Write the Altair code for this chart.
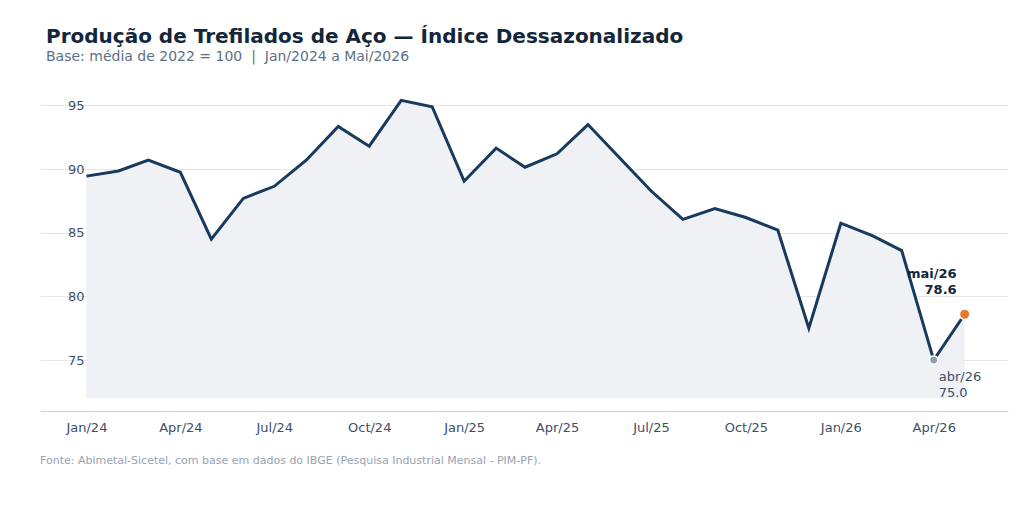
import altair as alt
import pandas as pd

months = pd.date_range("2024-01-01", "2026-05-01", freq="MS").strftime("%Y-%m-%d").tolist()
index_values = [89.45, 89.85, 90.7, 89.75, 84.5, 87.7, 88.65, 90.7, 93.35, 91.8, 95.4, 94.9,
                89.05, 91.65, 90.15, 91.2, 93.5, 90.85, 88.3, 86.05, 86.9, 86.2, 85.2, 77.5,
                85.75, 84.75, 83.6, 75.0, 78.6]
area_base = 72.0

df = pd.DataFrame({"mes": months, "indice": index_values, "base": area_base})

W, H = 968, 331
x_scale = alt.Scale(domain=["2023-11-17", "2026-06-12"])
y_scale = alt.Scale(domain=[71, 97], nice=False, zero=False)

x_enc = alt.X("mes:T", scale=x_scale, title=None,
              axis=alt.Axis(format="%b/%y", values=[m for m in months[::3]],
                            ticks=False, grid=False, domainColor="#c8d4e0",
                            labelColor="#3d5068", labelFontSize=13, labelPadding=10))
y_enc = alt.Y("indice:Q", scale=y_scale, title=None,
              axis=alt.Axis(values=[75, 80, 85, 90, 95], domain=False, ticks=False,
                            gridColor="#e3e7ec", labelColor="#3d5068", labelFontSize=13,
                            labelPadding=-44))

base = alt.Chart(df)
area = base.mark_area(color="#eef0f3", opacity=0.9).encode(x=x_enc, y=y_enc, y2="base:Q")
line = base.mark_line(color="#173a5e", strokeWidth=3).encode(x=x_enc, y=y_enc)

last = df.iloc[[-1]]
prev = df.iloc[[-2]]
pt_last = alt.Chart(last).mark_circle(size=110, color="#e8782a", opacity=1,
                                      stroke="white", strokeWidth=1.5).encode(x=x_enc, y=y_enc)
pt_prev = alt.Chart(prev).mark_circle(size=70, color="#8aa0b4", opacity=1,
                                      stroke="white", strokeWidth=1.5).encode(x=x_enc, y=y_enc)
lab_last = alt.Chart(last).mark_text(align="right", dx=-8, dy=-40, fontSize=13,
                                     fontWeight="bold", color="#13263b", lineHeight=16).encode(
    x=x_enc, y=y_enc, text=alt.value(["mai/26", "78.6"]))
lab_prev = alt.Chart(prev).mark_text(align="left", dx=5, dy=17, fontSize=13,
                                     color="#3d5068", lineHeight=16, baseline="middle").encode(
    x=x_enc, y=y_enc, text=alt.value(["abr/26", "75.0"]))
fonte = alt.Chart(df.iloc[[0]]).mark_text(align="left", fontSize=11, color="#97a3b0").encode(
    x=alt.value(0), y=alt.value(H + 50),
    text=alt.value("Fonte: Abimetal-Sicetel, com base em dados do IBGE (Pesquisa Industrial Mensal - PIM-PF)."))

chart = alt.layer(area, line, pt_prev, pt_last, lab_last, lab_prev, fonte).properties(
    width=W, height=H, autosize="none",
    padding={"left": 32, "top": 72, "right": 8, "bottom": 100},
    title=alt.TitleParams("Produção de Trefilados de Aço — Índice Dessazonalizado",
                          subtitle="Base: média de 2022 = 100 \u00a0|\u00a0 Jan/2024 a Mai/2026",
                          anchor="start", dx=6, offset=16, fontSize=20, fontWeight="bold",
                          color="#13263b", subtitleFontSize=14, subtitleColor="#5d7185",
                          subtitlePadding=3, font="DejaVu Sans", subtitleFont="DejaVu Sans"),
).configure(font="DejaVu Sans").configure_view(stroke=None, strokeWidth=0)

chart.save("out.html", embed_options={"renderer": "svg", "actions": False})
